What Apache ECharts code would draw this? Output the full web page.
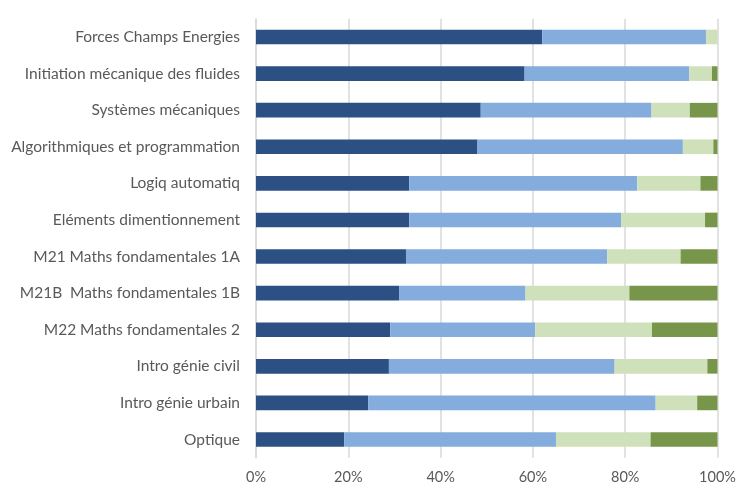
<!DOCTYPE html>
<html><head><meta charset="utf-8">
<script src="https://cdn.jsdelivr.net/npm/echarts@6/dist/echarts.min.js"></script>
<style>html,body{margin:0;padding:0;background:#fff}#c{width:745px;height:490px}</style>
</head><body><div id="c"></div>
<script>
const categories = ["Forces Champs Energies","Initiation mécanique des fluides","Systèmes mécaniques","Algorithmiques et programmation","Logiq automatiq","Eléments dimentionnement","M21 Maths fondamentales 1A","M21B  Maths fondamentales 1B","M22 Maths fondamentales 2","Intro génie civil","Intro génie urbain","Optique"];
const serie1 = [62.0,58.2,48.7,48.0,33.2,33.2,32.5,31.0,29.1,28.8,24.3,19.1];
const serie2 = [35.5,35.7,37.0,44.5,49.4,45.9,43.6,27.4,31.4,48.9,62.3,45.9];
const serie3 = [2.5,4.9,8.3,6.6,13.7,18.2,15.9,22.5,25.3,20.1,9.0,20.5];
const serie4 = [0,1.2,6.0,0.9,3.7,2.7,8.0,19.1,14.2,2.2,4.4,14.5];
const xTicks = {min:0, max:100, interval:20};
const colors = ['#2D5084','#84ADDD','#CFE1BA','#77964A'];
const chart = echarts.init(document.getElementById('c'));
const font = 'Lato, "Open Sans", sans-serif';
function s(name, data, i){
  return {name, type:'bar', stack:'total', data, barCategoryGap:'60%',
    itemStyle:{color:colors[i]}, emphasis:{disabled:true}};
}
chart.setOption({
  animation:false,
  grid:{left:256, right:27.5, top:18.7, bottom:32.2, containLabel:false},
  xAxis:{type:'value', min:xTicks.min, max:xTicks.max, interval:xTicks.interval,
    axisLabel:{formatter:'{value}%', color:'#595959', fontSize:14.5, fontFamily:font, margin:12},
    axisLine:{show:false}, axisTick:{show:false},
    splitLine:{lineStyle:{color:'#D9D9D9', width:1.5}}},
  yAxis:{type:'category', data:categories, inverse:true,
    axisLine:{show:true, lineStyle:{color:'#D9D9D9', width:1.5}}, axisTick:{show:false},
    axisLabel:{color:'#595959', fontSize:15.5, fontFamily:font, margin:16}},
  series:[s('A',serie1,0),s('B',serie2,1),s('C',serie3,2),s('D',serie4,3)]
});
</script></body></html>
